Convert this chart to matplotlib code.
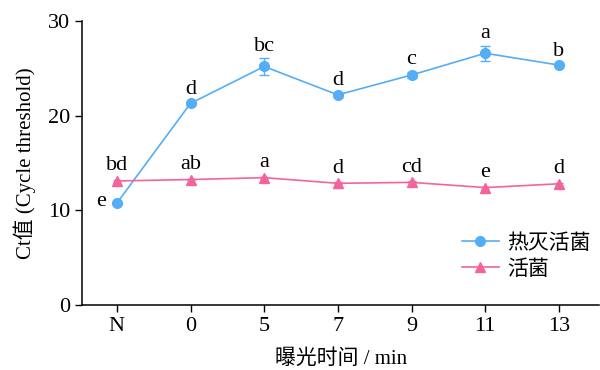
import matplotlib.pyplot as plt
from matplotlib.lines import Line2D
import numpy as np

plt.rcParams['font.family'] = ['Liberation Serif', 'Noto Sans CJK SC']

# categories and values
times = ['N', '0', '5', '7', '9', '11', '13']
heat_killed = [10.75, 21.3, 25.2, 22.2, 24.3, 26.6, 25.35]
heat_err = [0.1, 0.15, 0.85, 0.2, 0.35, 0.8, 0.15]
live = [13.1, 13.25, 13.45, 12.85, 12.95, 12.4, 12.8]
live_err = [0.1, 0.1, 0.1, 0.1, 0.1, 0.1, 0.1]
heat_letters = ['e', 'd', 'bc', 'd', 'c', 'a', 'b']
live_letters = ['bd', 'ab', 'a', 'd', 'cd', 'e', 'd']

blue = '#55AEF5'
pink = '#F4649C'

fig = plt.figure(figsize=(6, 3.7), dpi=100)
ax = fig.add_axes([0.137, 0.176, 0.862, 0.767])
x = np.arange(len(times))

ax.errorbar(x, heat_killed, yerr=heat_err, color=blue, marker='o', markersize=7,
            lw=1.2, capsize=3.5, elinewidth=1)
ax.errorbar(x, live, yerr=live_err, color=pink, marker='^', markersize=7,
            lw=1.2, capsize=3, elinewidth=1)

for i in range(len(times)):
    if i == 0:
        ax.annotate(heat_letters[i], (x[i], heat_killed[i]), xytext=(-8, 1),
                    textcoords='offset points', ha='right', va='center', fontsize=16)
    else:
        ax.annotate(heat_letters[i], (x[i], heat_killed[i] + heat_err[i]), xytext=(0, 2),
                    textcoords='offset points', ha='center', va='bottom', fontsize=16)
    ax.annotate(live_letters[i], (x[i], live[i]), xytext=(0, 4),
                textcoords='offset points', ha='center', va='bottom', fontsize=16)

ax.set_xlim(-0.47, 6.55)
ax.set_ylim(0, 30)
ax.set_yticks([0, 10, 20, 30])
ax.set_xticks(x)
ax.set_xticklabels(times)
ax.tick_params(labelsize=16, direction='out', length=5, width=1, colors='black')
ax.spines['top'].set_visible(False)
ax.spines['right'].set_visible(False)
for s in ['left', 'bottom']:
    ax.spines[s].set_linewidth(1.1)

ax.set_ylabel('Ct值 (Cycle threshold)', fontsize=15, labelpad=9)
ax.set_xlabel('曝光时间 / min', fontsize=15, labelpad=10)

handles = [Line2D([], [], color=blue, marker='o', markersize=7, lw=1.2),
           Line2D([], [], color=pink, marker='^', markersize=7, lw=1.2)]
ax.legend(handles, ['热灭活菌', '活菌'], loc='lower right', bbox_to_anchor=(1.0, 0.06),
          frameon=False, fontsize=15, handlelength=1.8, handletextpad=0.4,
          labelspacing=0.3, borderaxespad=0.2, borderpad=0.2)

fig.savefig('out.png', dpi=100)
